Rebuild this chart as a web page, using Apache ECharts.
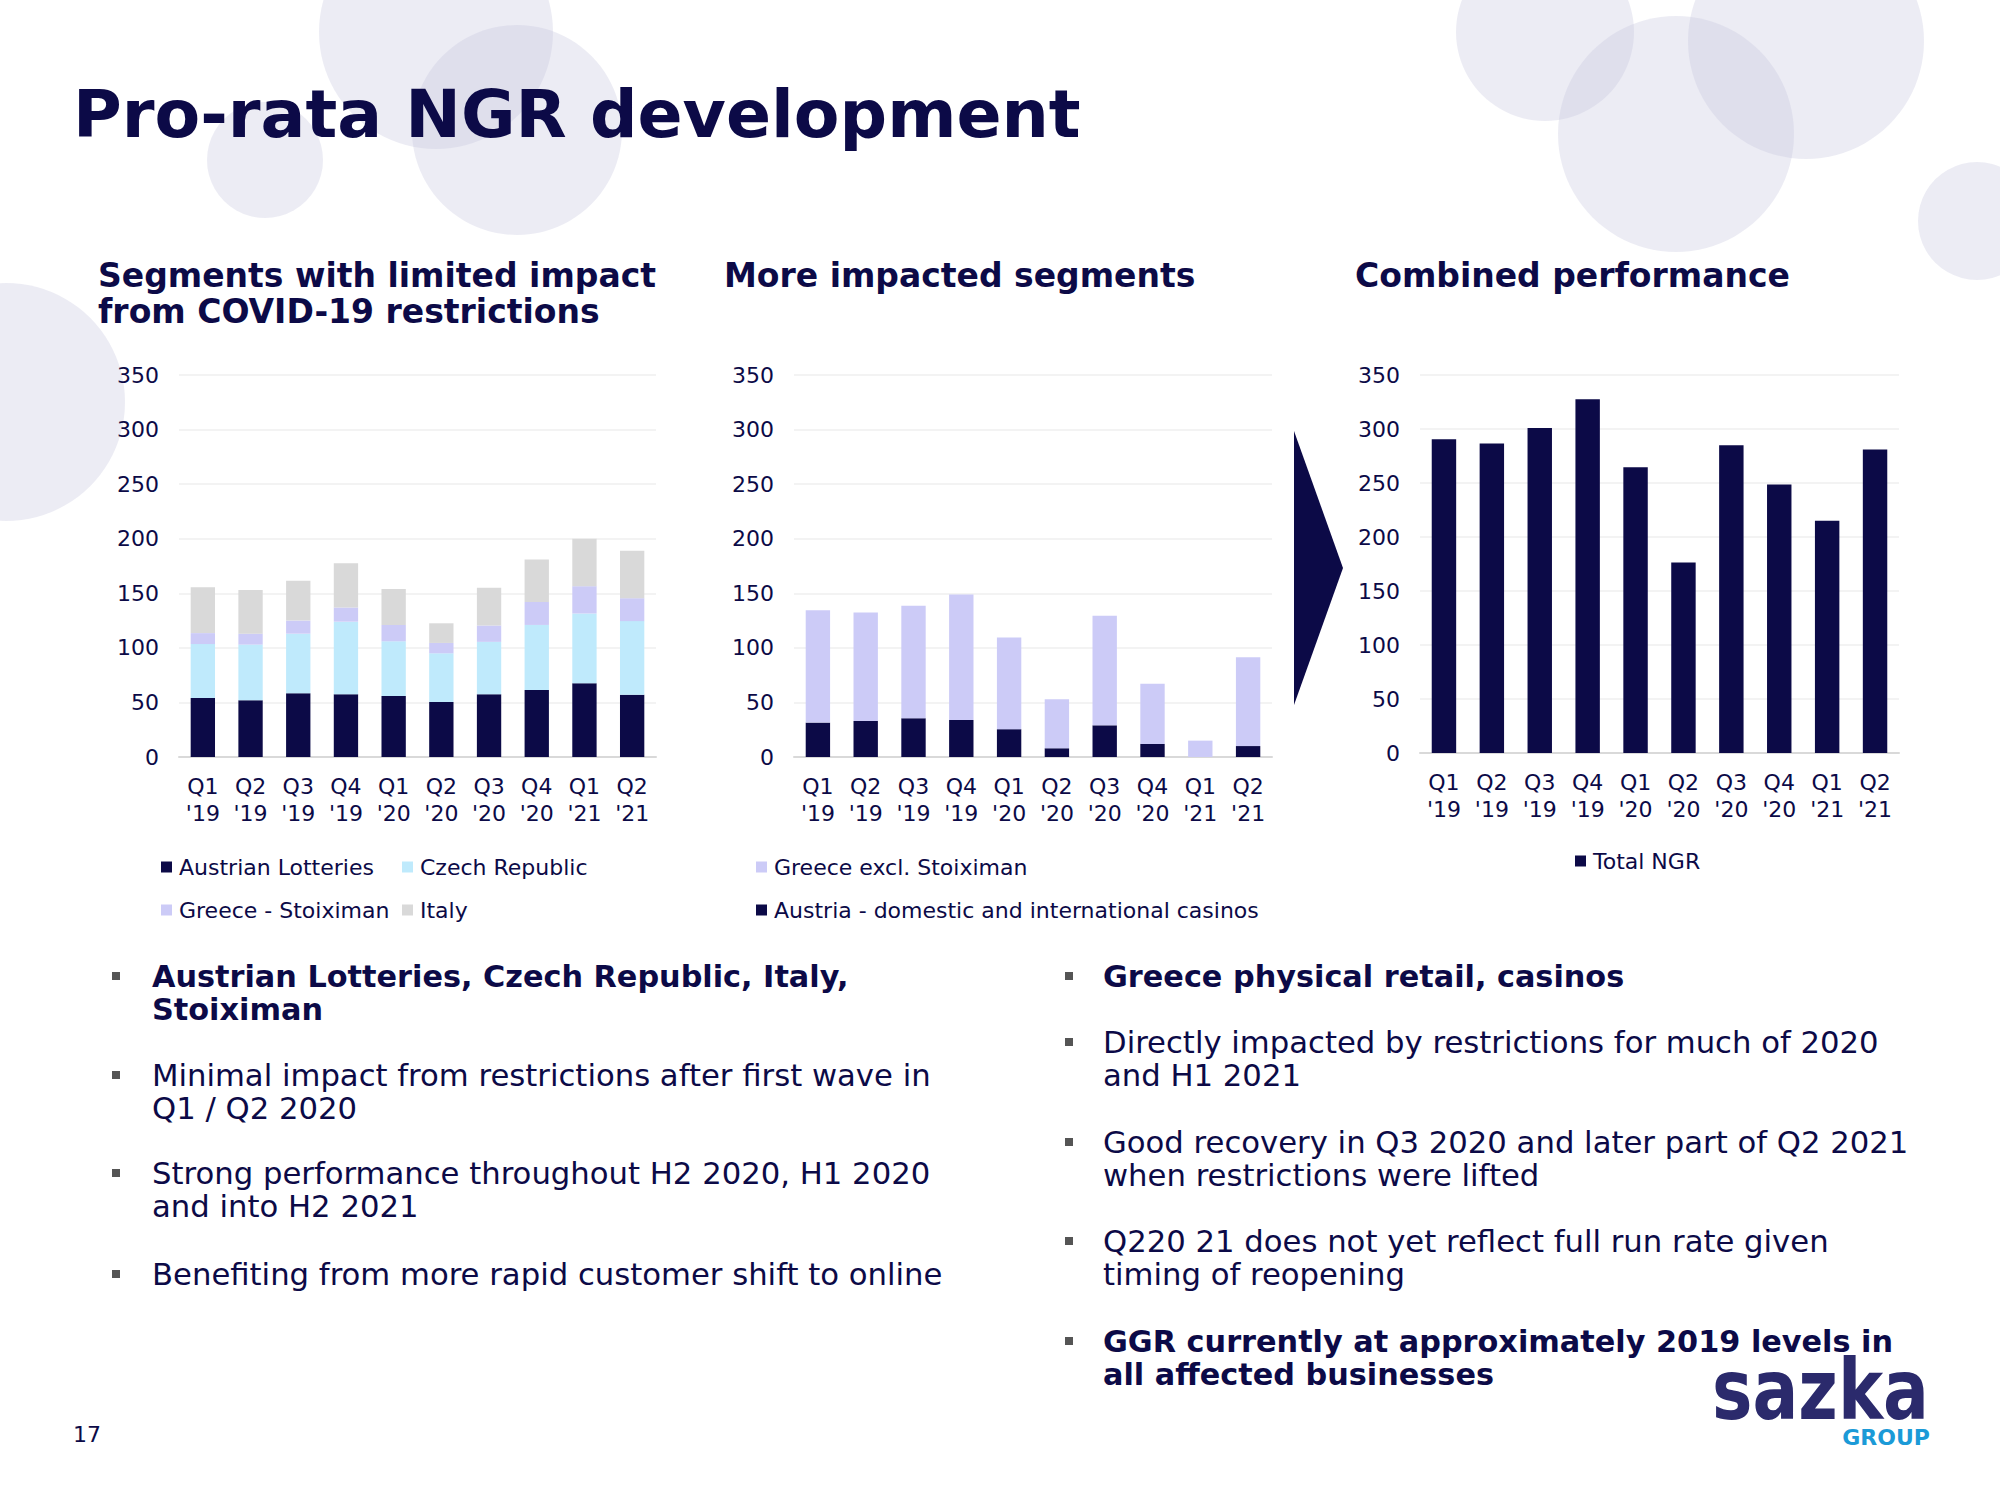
<!DOCTYPE html>
<html><head><meta charset="utf-8">
<script src="https://cdn.jsdelivr.net/npm/echarts@6/dist/echarts.min.js"></script>
<style>html,body{margin:0;padding:0;background:#fff;} #c{width:2000px;height:1500px;}</style>
</head><body><div id="c"></div>
<script>
// ---- data ----
const quarters = ["Q1","Q2","Q3","Q4","Q1","Q2","Q3","Q4","Q1","Q2"];
const years = ["'19","'19","'19","'19","'20","'20","'20","'20","'21","'21"];
const categories = quarters.map((q, i) => q + "\n" + years[i]);

// Segments with limited impact
const austrianLotteries = [54, 52, 58.5, 57.5, 56, 50.5, 57.5, 61.5, 67.5, 57];
const czechRepublic     = [49.5, 51, 54.5, 66.5, 50, 44.5, 48, 59.5, 64, 67.5];
const greeceStoiximan   = [10, 10, 12, 13, 15, 9.5, 15, 21, 25, 21];
const italy             = [42, 40, 36.5, 40.5, 33, 18, 34.5, 39, 43.5, 43.5];

// More impacted segments
const austriaCasinos    = [31.5, 33, 35.5, 34, 25.5, 8, 29, 12, 0, 10];
const greeceExclStoix   = [103, 99.5, 103, 115, 84, 45, 100.5, 55, 15, 81.5];

// Combined performance
const totalNGR          = [290.5, 286.5, 301, 327.5, 264.5, 176.5, 285, 248.5, 215, 281];

const yMin = 0, yMax = 350, yInterval = 50;

// ---- style ----
const F = "'DejaVu Sans', Verdana, sans-serif";
const NAVY = '#0c0a47';
const C_CZ = '#bfeafc';
const C_GR = '#cccbf7';
const C_IT = '#d9d9d9';

const grids = [
  {left: 179, top: 375, width: 477, height: 382},
  {left: 794, top: 375, width: 478, height: 382},
  {left: 1420, top: 375, width: 479, height: 378}
];

function xAxis(i) {
  return {type: 'category', gridIndex: i, data: categories,
    axisLine: {lineStyle: {color: '#d9d9d9', width: 2}},
    axisTick: {show: false},
    axisLabel: {color: NAVY, fontSize: 22, fontFamily: F, lineHeight: 27, margin: 16, interval: 0}};
}
function yAxis(i) {
  return {type: 'value', gridIndex: i, min: yMin, max: yMax, interval: yInterval,
    axisLine: {show: false}, axisTick: {show: false},
    axisLabel: {color: NAVY, fontSize: 22, fontFamily: F, margin: 20},
    splitLine: {lineStyle: {color: '#efefef', width: 1.5}}};
}
function bar(name, data, color, gi, stack) {
  return {name, type: 'bar', data, xAxisIndex: gi, yAxisIndex: gi, stack,
    barWidth: '51%', itemStyle: {color}, emphasis: {disabled: true}};
}
function legend(name, left, cy) {
  return {data: [name], left, top: cy - 11, padding: 0, itemWidth: 11, itemHeight: 11,
    icon: 'rect', selectedMode: false,
    textStyle: {color: NAVY, fontSize: 22, fontFamily: F, padding: [0, 0, 0, 2]}};
}

function txt(x, y, text, size, weight, opts) {
  return Object.assign({type: 'text', x, y, z: 10, silent: true,
    style: {text, fill: NAVY, font: weight + ' ' + size + 'px ' + F,
            textAlign: 'left', textVerticalAlign: 'middle'}}, opts || {});
}
function bullet(markX, textX, y, text, bold) {
  return [
    {type: 'rect', shape: {x: markX - 4, y: y - 4, width: 8, height: 8}, style: {fill: '#555555'}, z: 10, silent: true},
    {type: 'text', x: textX, y: y - 16.5, z: 10, silent: true,
     style: {text, fill: NAVY, font: (bold ? 'bold 30.3px ' : 'normal 30.7px ') + F,
             textAlign: 'left', textVerticalAlign: 'top', lineHeight: 33}}
  ];
}

const circles = [
  [436, 32, 117], [517, 130, 105], [265, 160, 58], [6, 402, 119],
  [1545, 32, 89], [1806, 41, 118], [1676, 134, 118], [1977, 221, 59]
].map(c => ({type: 'circle', shape: {cx: c[0], cy: c[1], r: c[2]}, z: 0, silent: true,
  style: {fill: 'rgba(195,195,222,0.32)'}}));

const graphics = [].concat(
  circles,
  [
    txt(73, 114, 'Pro-rata NGR development', 66.5, 'bold'),
    {type: 'text', x: 98, y: 257, z: 10, silent: true,
     style: {text: 'Segments with limited impact\nfrom COVID-19 restrictions', fill: NAVY,
             font: 'bold 33px ' + F, textAlign: 'left', textVerticalAlign: 'top', lineHeight: 36}},
    txt(724, 275, 'More impacted segments', 33, 'bold'),
    txt(1355, 275, 'Combined performance', 33, 'bold'),
    {type: 'polygon', shape: {points: [[1294, 431], [1343, 568], [1294, 705]]}, z: 5, silent: true,
     style: {fill: NAVY}},
    txt(73, 1434, '17', 22, 'normal'),
    {type: 'text', x: 1712, y: 1391, z: 10, silent: true, scaleY: 1.22, originX: 0, originY: 0,
     style: {text: 'sazka', fill: '#2b2a6c', font: 'bold 68px ' + F, textAlign: 'left', textVerticalAlign: 'middle'}},
    {type: 'text', x: 1930, y: 1437, z: 10, silent: true,
     style: {text: 'GROUP', fill: '#1b9ad7', font: 'bold 22px ' + F, textAlign: 'right', textVerticalAlign: 'middle'}}
  ],
  bullet(116, 152, 976, 'Austrian Lotteries, Czech Republic, Italy,\nStoiximan', true),
  bullet(116, 152, 1075, 'Minimal impact from restrictions after first wave in\nQ1 / Q2 2020', false),
  bullet(116, 152, 1173, 'Strong performance throughout H2 2020, H1 2020\nand into H2 2021', false),
  bullet(116, 152, 1274, 'Benefiting from more rapid customer shift to online', false),
  bullet(1069, 1103, 976, 'Greece physical retail, casinos', true),
  bullet(1069, 1103, 1042, 'Directly impacted by restrictions for much of 2020\nand H1 2021', false),
  bullet(1069, 1103, 1142, 'Good recovery in Q3 2020 and later part of Q2 2021\nwhen restrictions were lifted', false),
  bullet(1069, 1103, 1241, 'Q220 21 does not yet reflect full run rate given\ntiming of reopening', false),
  bullet(1069, 1103, 1341, 'GGR currently at approximately 2019 levels in\nall affected businesses', true)
);

const chart = echarts.init(document.getElementById('c'), null, {renderer: 'svg', width: 2000, height: 1500});
chart.setOption({
  animation: false,
  backgroundColor: '#ffffff',
  textStyle: {fontFamily: F},
  grid: grids,
  xAxis: [xAxis(0), xAxis(1), xAxis(2)],
  yAxis: [yAxis(0), yAxis(1), yAxis(2)],
  legend: [
    legend('Austrian Lotteries', 161, 867),
    legend('Czech Republic', 402, 867),
    legend('Greece - Stoiximan', 161, 910),
    legend('Italy', 402, 910),
    legend('Greece excl. Stoiximan', 756, 867),
    legend('Austria - domestic and international casinos', 756, 910),
    legend('Total NGR', 1575, 861)
  ],
  series: [
    bar('Austrian Lotteries', austrianLotteries, NAVY, 0, 'a'),
    bar('Czech Republic', czechRepublic, C_CZ, 0, 'a'),
    bar('Greece - Stoiximan', greeceStoiximan, C_GR, 0, 'a'),
    bar('Italy', italy, C_IT, 0, 'a'),
    bar('Austria - domestic and international casinos', austriaCasinos, NAVY, 1, 'b'),
    bar('Greece excl. Stoiximan', greeceExclStoix, C_GR, 1, 'b'),
    bar('Total NGR', totalNGR, NAVY, 2, undefined)
  ],
  graphic: {elements: graphics}
});
</script></body></html>
